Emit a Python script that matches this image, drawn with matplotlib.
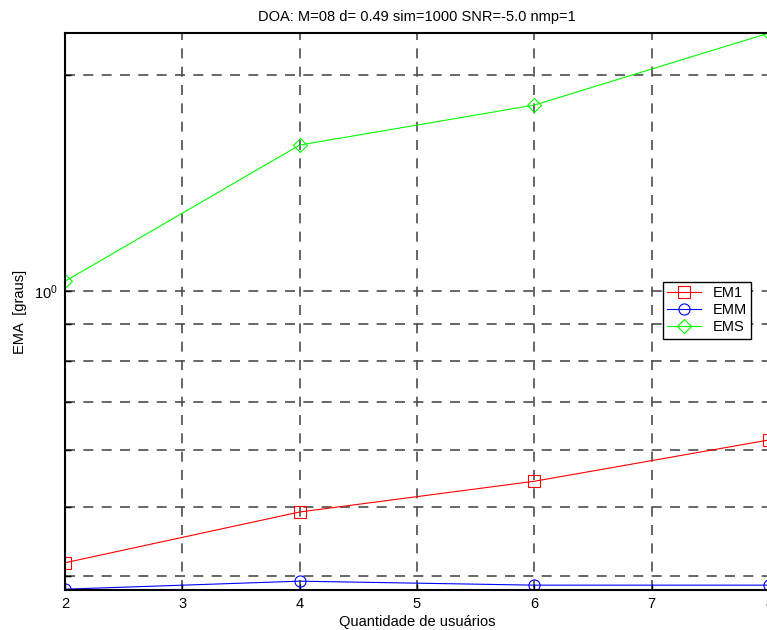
#!/usr/bin/env python3
# DOA error vs. number of users, log-scale EMA for three estimators.

import matplotlib
matplotlib.use('Agg')
from matplotlib import pyplot as plt
from matplotlib.ticker import FixedLocator, NullFormatter, FixedFormatter

#
#   Data
#
users = [2, 4, 6, 8]
em1 = [0.418, 0.492, 0.543, 0.620]
emm = [0.384, 0.394, 0.389, 0.389]
ems = [1.032, 1.598, 1.817, 2.29]

title = 'DOA: M=08 d= 0.49 sim=1000 SNR=-5.0 nmp=1'

plt.rcParams['font.family'] = ['Liberation Sans', 'DejaVu Sans']
plt.rcParams['mathtext.fontset'] = 'custom'
plt.rcParams['mathtext.rm'] = 'Liberation Sans'
plt.rcParams['mathtext.it'] = 'Liberation Sans'
fs = 10.5

fig = plt.figure(figsize=(7.67, 6.30), dpi=100)
ax = fig.add_axes([65 / 767, 40 / 630, 704 / 767, 557 / 630])

ax.plot(users, em1, color='red', lw=0.8, marker='s', ms=8,
        mfc='none', mec='red', mew=0.8, label='EM1')
ax.plot(users, emm, color='blue', lw=0.8, marker='o', ms=8,
        mfc='none', mec='blue', mew=0.8, label='EMM')
ax.plot(users, ems, color='#00ff00', lw=0.8, marker='D', ms=7,
        mfc='none', mec='#00ff00', mew=0.8, label='EMS')

ax.set_yscale('log')
ax.set_xlim(2, 8)
ax.set_ylim(0.383, 2.29)
ax.set_xticks([2, 3, 4, 5, 6, 7, 8])

ax.yaxis.set_major_locator(FixedLocator([1.0]))
ax.yaxis.set_major_formatter(FixedFormatter(['$10^0$']))
ax.yaxis.set_minor_locator(FixedLocator([0.4, 0.5, 0.6, 0.7, 0.8, 0.9, 2.0]))
ax.yaxis.set_minor_formatter(NullFormatter())

ax.tick_params(which='both', direction='in', length=4, width=1)
ax.tick_params(labelsize=fs, pad=5)

grid_style = dict(color='#4d4d4d', linestyle=(0, (6, 5)), linewidth=1.2)
ax.grid(True, which='major', **grid_style)
ax.grid(True, which='minor', axis='y', **grid_style)
ax.set_axisbelow(True)

for side in ['left', 'bottom', 'top', 'right']:
    ax.spines[side].set_linewidth(1.5)
    ax.spines[side].set_color('black')

ax.set_title(title, fontsize=fs, pad=9)
ax.set_xlabel('Quantidade de usuários', fontsize=fs, labelpad=3)
ax.set_ylabel('EMA  [graus]', fontsize=fs, labelpad=5)

leg = ax.legend(loc='upper left', bbox_to_anchor=(663 / 767, 1 - 282 / 630),
                bbox_transform=fig.transFigure, fancybox=False,
                framealpha=1, edgecolor='black', fontsize=fs,
                handlelength=2.3, borderpad=0.3, labelspacing=0.2,
                handletextpad=0.8, borderaxespad=0)
leg.get_frame().set_linewidth(1)

fig.savefig('out.png', dpi=100)
plt.close(fig)
